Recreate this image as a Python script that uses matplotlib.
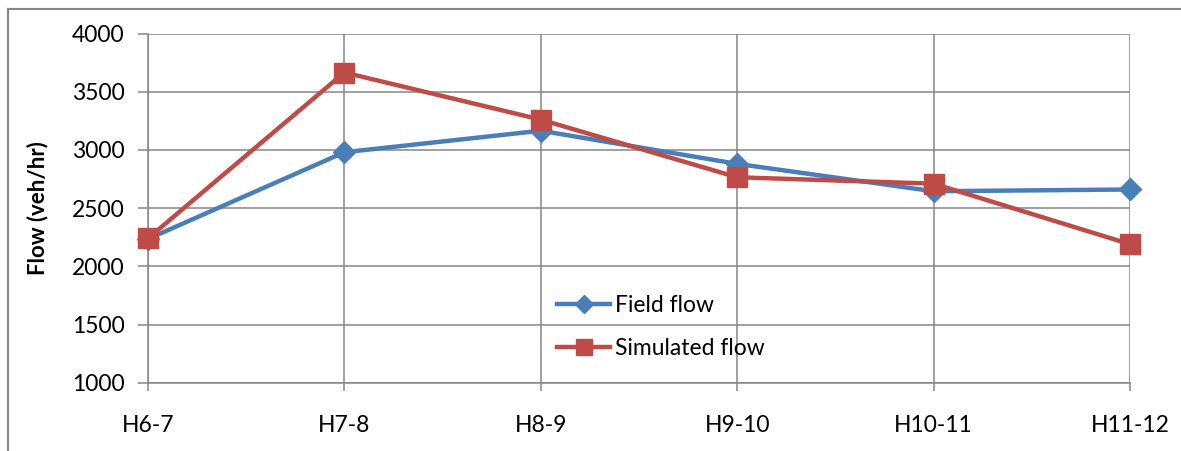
import matplotlib.pyplot as plt
from matplotlib.lines import Line2D

hours = ['H6-7', 'H7-8', 'H8-9', 'H9-10', 'H10-11', 'H11-12']
field_flow = [2235, 2980, 3165, 2880, 2645, 2660]
simulated_flow = [2240, 3665, 3260, 2765, 2710, 2190]

BLUE = '#4A7EBB'
RED = '#BE4B48'
GRID = '#868686'

plt.rcParams['font.family'] = ['Lato', 'DejaVu Sans']

fig = plt.figure(figsize=(11.81, 4.51), dpi=100)
ax = fig.add_axes([0.1253, 0.1514, 0.8315, 0.7743])

x = list(range(len(hours)))
ax.plot(x, field_flow, color=BLUE, lw=3.2, marker='D', markersize=11,
        label='Field flow', zorder=3, clip_on=False)
ax.plot(x, simulated_flow, color=RED, lw=3.2, marker='s', markersize=14,
        label='Simulated flow', zorder=4, clip_on=False)

ax.set_xlim(0, 5)
ax.set_ylim(1000, 4000)
ax.set_yticks(range(1000, 4001, 500))
ax.set_xticks(x)
ax.set_xticklabels(hours)

ax.grid(True, color=GRID, lw=1.1)
ax.set_axisbelow(True)
for side in ['top', 'right']:
    ax.spines[side].set_visible(False)
for side in ['left', 'bottom']:
    ax.spines[side].set_color(GRID)
    ax.spines[side].set_linewidth(1.1)

ax.tick_params(axis='y', length=7, width=1.1, color=GRID, pad=10, labelsize=16.5)
ax.tick_params(axis='x', length=6, width=1.1, color=GRID, pad=17.5, labelsize=16.5)
ax.set_ylabel('Flow (veh/hr)', fontsize=16, fontweight='bold', labelpad=17)

ax.legend(loc='upper left', bbox_to_anchor=(0.396, 0.31), frameon=False,
          fontsize=16.5, handlelength=2.3, labelspacing=0.95, handletextpad=0.2,
          markerscale=0.85)

# outer chart frame
fig.add_artist(Line2D([8 / 1181, 1], [1 - 9 / 451, 1 - 9 / 451],
                      transform=fig.transFigure, color=GRID, lw=1.5))
fig.add_artist(Line2D([8 / 1181, 8 / 1181], [0, 1 - 9 / 451],
                      transform=fig.transFigure, color=GRID, lw=1.5))

fig.savefig('out.png', dpi=100)
